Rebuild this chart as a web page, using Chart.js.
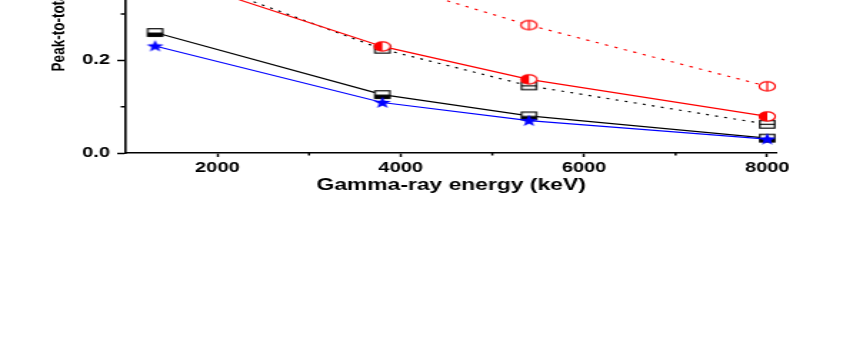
<!DOCTYPE html>
<html>
<head>
<meta charset="utf-8">
<script src="https://cdn.jsdelivr.net/npm/chart.js@4.4.1/dist/chart.umd.min.js"></script>
<style>
  html, body { margin: 0; padding: 0; background: #fff; overflow: hidden; }
  body { width: 863px; height: 349px; position: relative; }
  #wrap { position: absolute; left: 0; top: -140px; width: 604px; height: 489px;
          transform: scaleX(1.4288); transform-origin: 0 0; }
</style>
</head>
<body>
<div id="wrap"><canvas id="ptChart" width="604" height="489"></canvas></div>
<script>
// data
const energies = [1320, 3800, 5400, 8000];
const blackSolid = [0.260, 0.126, 0.080, 0.032];
const blueStar = [0.231, 0.109, 0.070, 0.030];
const redSolid = [0.390, 0.230, 0.159, 0.079];
const blackDotted = [0.405, 0.224, 0.145, 0.062];
const redDotted = [0.560, 0.370, 0.276, 0.144];

const xMajorTicks = [2000, 4000, 6000, 8000];
const xMinorTicks = [3000, 5000, 7000];
const yMajorTicks = [0.0, 0.2, 0.4, 0.6];
const yMinorTicks = [0.1, 0.3, 0.5];

const fontFam = "'Liberation Sans', Arial, sans-serif";

function makeMarker(kind) {
    var c = document.createElement('canvas');
    c.width = 14; c.height = 13;
    var g = c.getContext('2d');
    var cx = 7, cy = 6.5;
    g.lineWidth = 1.2;
    if (kind === 'halfSquare' || kind === 'lineSquare') {
        g.fillStyle = '#fff';
        g.fillRect(cx - 5.2, cy - 3.8, 10.4, 7.6);
        if (kind === 'halfSquare') {
            g.fillStyle = '#000';
            g.fillRect(cx - 5.2, cy, 10.4, 3.8);
        } else {
            g.beginPath(); g.moveTo(cx - 5.2, cy); g.lineTo(cx + 5.2, cy);
            g.strokeStyle = '#000'; g.stroke();
        }
        g.strokeStyle = '#000';
        g.strokeRect(cx - 5.2, cy - 3.8, 10.4, 7.6);
    } else if (kind === 'halfCircle' || kind === 'lineCircle') {
        g.beginPath(); g.ellipse(cx, cy, 5.6, 4.6, 0, 0, Math.PI * 2);
        g.fillStyle = '#fff'; g.fill();
        if (kind === 'halfCircle') {
            g.beginPath(); g.ellipse(cx, cy, 5.6, 4.6, 0, Math.PI / 2, Math.PI * 1.5);
            g.closePath();
            g.fillStyle = '#ff0000'; g.fill();
        } else {
            g.beginPath(); g.moveTo(cx, cy - 4.6); g.lineTo(cx, cy + 4.6);
            g.strokeStyle = '#ff0000'; g.stroke();
        }
        g.beginPath(); g.ellipse(cx, cy, 5.6, 4.6, 0, 0, Math.PI * 2);
        g.strokeStyle = '#ff0000'; g.stroke();
    } else if (kind === 'star') {
        g.beginPath();
        for (var i = 0; i < 10; i++) {
            var r = i % 2 === 0 ? 6.3 : 2.6;
            var a = -Math.PI / 2 + i * Math.PI / 5;
            var px = cx + r * Math.cos(a), py = cy + 0.4 + r * Math.sin(a);
            if (i === 0) g.moveTo(px, py); else g.lineTo(px, py);
        }
        g.closePath();
        g.fillStyle = '#0000ff'; g.fill();
    }
    return c;
}

function series(values, color, dash, marker) {
    return {
        data: energies.map((e, i) => ({ x: e, y: values[i] })),
        borderColor: color,
        borderWidth: 1.2,
        borderDash: dash,
        pointStyle: makeMarker(marker),
        pointRadius: 6,
        fill: false,
        tension: 0
    };
}

// minor ticks, placed by the scales
const minorTicks = {
    id: 'minorTicks',
    afterDraw(chart) {
        var ctx = chart.ctx;
        var xs = chart.scales.x, ys = chart.scales.y;
        ctx.save();
        ctx.strokeStyle = '#000';
        ctx.lineWidth = 1.5;
        ctx.beginPath();
        xMinorTicks.forEach(v => {
            var px = xs.getPixelForValue(v);
            ctx.moveTo(px, xs.top); ctx.lineTo(px, xs.top + 2.5);
        });
        yMinorTicks.forEach(v => {
            var py = ys.getPixelForValue(v);
            ctx.moveTo(ys.right, py); ctx.lineTo(ys.right - 3.5, py);
        });
        ctx.stroke();
        ctx.restore();
    }
};

var ctx = document.getElementById('ptChart').getContext('2d');
new Chart(ctx, {
    type: 'line',
    data: {
        datasets: [
            series(blueStar, '#0000ff', [], 'star'),
            series(redSolid, '#ff0000', [], 'halfCircle'),
            series(blackSolid, '#000000', [], 'halfSquare'),
            series(redDotted, '#ff0000', [2.3, 4.7], 'lineCircle'),
            series(blackDotted, '#000000', [2, 4.5], 'lineSquare')
        ]
    },
    options: {
        responsive: false,
        devicePixelRatio: 1,
        animation: false,
        layout: { padding: { left: 20, right: 60.6, top: 15, bottom: 146 } },
        plugins: { legend: { display: false }, tooltip: { enabled: false } },
        scales: {
            x: {
                type: 'linear',
                min: 1000,
                max: 8100,
                afterFit: s => { s.height = 50; },
                afterBuildTicks: s => { s.ticks = xMajorTicks.map(v => ({ value: v })); },
                grid: { drawOnChartArea: false, drawTicks: true, tickLength: 4, tickWidth: 1.5, tickColor: '#000' },
                border: { color: '#000', width: 1.6 },
                ticks: {
                    color: '#000', padding: 3, maxRotation: 0,
                    font: { family: fontFam, size: 14, weight: 'bold' },
                    callback: v => String(v)
                },
                title: {
                    display: true,
                    text: 'Gamma-ray energy (keV)',
                    color: '#000',
                    padding: { top: 0, bottom: 7.4 },
                    font: { family: fontFam, size: 16, weight: 'bold' }
                }
            },
            y: {
                min: 0,
                max: 0.6,
                afterFit: s => { s.width = 68; },
                afterBuildTicks: s => { s.ticks = yMajorTicks.map(v => ({ value: v })); },
                grid: { drawOnChartArea: false, drawTicks: true, tickLength: 6, tickWidth: 1.5, tickColor: '#000' },
                border: { color: '#000', width: 1.6 },
                ticks: {
                    color: '#000', padding: 5,
                    font: { family: fontFam, size: 14, weight: 'bold' },
                    callback: v => Number(v).toFixed(1)
                },
                title: {
                    display: true,
                    text: 'Peak-to-total ratio',
                    color: '#000',
                    padding: { top: 12.7, bottom: 0 },
                    font: { family: fontFam, size: 13.5, weight: 'bold' }
                }
            }
        }
    },
    plugins: [minorTicks]
});
</script>
</body>
</html>
